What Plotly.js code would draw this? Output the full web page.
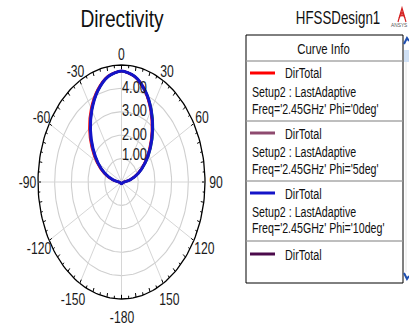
<!DOCTYPE html>
<html>
<head>
<meta charset="utf-8">
<script src="https://cdn.plot.ly/plotly-3.0.1.min.js"></script>
<style>html,body{margin:0;padding:0;background:#fff;}#chart{width:409px;height:328px;}</style>
</head>
<body>
<div id="chart"></div>
<script>
// ---------------- data ----------------
const thetaDeg = [-180,-170,-160,-150,-140,-130,-120,-110,-100,-90,-80,-70,-60,-50,-40,-30,-20,-10,0,10,20,30,40,50,60,70,80,90,100,110,120,130,140,150,160,170,180];
const dirTealPhi = [0.07,0.07,0.07,0.07,0.07,0.07,0.07,0.08,0.10,0.16,0.51,1.04,1.60,2.22,2.88,3.54,4.14,4.57,4.73,4.58,4.16,3.60,2.96,2.31,1.69,1.09,0.54,0.17,0.10,0.08,0.07,0.07,0.07,0.07,0.07,0.07,0.07];
const dirOlivePhi = [0.07,0.07,0.07,0.07,0.07,0.07,0.07,0.08,0.10,0.16,0.52,1.06,1.64,2.26,2.92,3.57,4.15,4.58,4.74,4.58,4.15,3.58,2.93,2.27,1.65,1.07,0.52,0.16,0.10,0.08,0.07,0.07,0.07,0.07,0.07,0.07,0.07];
const dirPhi0 = [0.07,0.07,0.07,0.07,0.07,0.07,0.07,0.08,0.10,0.17,0.55,1.11,1.71,2.33,2.99,3.63,4.19,4.60,4.74,4.57,4.12,3.50,2.83,2.18,1.58,1.02,0.50,0.15,0.10,0.08,0.07,0.07,0.07,0.07,0.07,0.07,0.07];
const dirPhi5 = [0.07,0.07,0.07,0.07,0.07,0.07,0.07,0.08,0.10,0.16,0.53,1.08,1.67,2.29,2.95,3.59,4.17,4.59,4.74,4.58,4.13,3.53,2.86,2.21,1.60,1.04,0.51,0.16,0.10,0.08,0.07,0.07,0.07,0.07,0.07,0.07,0.07];
const dirPhi10 = [0.07,0.07,0.07,0.07,0.07,0.07,0.07,0.08,0.10,0.16,0.51,1.05,1.62,2.23,2.89,3.55,4.15,4.58,4.74,4.58,4.15,3.55,2.89,2.24,1.63,1.06,0.52,0.16,0.10,0.08,0.07,0.07,0.07,0.07,0.07,0.07,0.07];
const dirPhi15 = [0.07,0.07,0.07,0.07,0.07,0.07,0.07,0.08,0.10,0.16,0.52,1.06,1.64,2.25,2.91,3.56,4.15,4.58,4.74,4.58,4.14,3.54,2.88,2.23,1.62,1.05,0.51,0.16,0.10,0.08,0.07,0.07,0.07,0.07,0.07,0.07,0.07];

const ringValues = [1, 2, 3, 4, 5];
const ringLabels = ["1.00", "2.00", "3.00", "4.00"];
const spokeAngles = [0, 30, 60, 90, 120, 150, 180, 210, 240, 270, 300, 330];
const angleLabelValues = [0, 30, 60, 90, 120, 150, -180, -150, -120, -90, -60, -30];
const legendNames = ["DirTotal", "DirTotal", "DirTotal", "DirTotal"];
const legendSetups = ["Setup2 : LastAdaptive", "Setup2 : LastAdaptive", "Setup2 : LastAdaptive", ""];
const legendFreqs = ["Freq='2.45GHz' Phi='0deg'", "Freq='2.45GHz' Phi='5deg'", "Freq='2.45GHz' Phi='10deg'", ""];

// ---------------- geometry / styling ----------------
const W = 409, H = 328;
const cx = 121.5, cy = 182, kx = 16.7, ky = 23.4;
const FONT = "'Liberation Sans', Arial, sans-serif";
const rad = d => d * Math.PI / 180;
const px = x => x / W;
const py = y => 1 - y / H;

function polarXY(rs, thetas) {
  return { x: rs.map((r, i) => r * Math.sin(rad(thetas[i]))), y: rs.map((r, i) => r * Math.cos(rad(thetas[i]))) };
}

const traces = [];
ringValues.forEach(rv => {
  const th = [], rr = [];
  for (let a = 0; a <= 360; a += 2) { th.push(a); rr.push(rv); }
  const p = polarXY(rr, th);
  traces.push({ x: p.x, y: p.y, mode: 'lines', hoverinfo: 'skip', showlegend: false,
    line: { color: rv === 5 ? '#000000' : '#cfcfcf', width: rv === 5 ? 1.3 : 1.1 } });
});
spokeAngles.forEach(a => {
  const p = polarXY([0, 5], [a, a]);
  traces.push({ x: p.x, y: p.y, mode: 'lines', hoverinfo: 'skip', showlegend: false,
    line: { color: '#d6d6d6', width: 1 } });
});
(function () {
  const tx = [], ty = [];
  for (let a = 0; a < 360; a += 5) {
    const inner = (a % 10 === 0) ? 4.82 : 4.88;
    const p = polarXY([inner, 5], [a, a]);
    tx.push(p.x[0], p.x[1], null); ty.push(p.y[0], p.y[1], null);
  }
  traces.push({ x: tx, y: ty, mode: 'lines', hoverinfo: 'skip', showlegend: false,
    line: { color: '#000000', width: 1 } });
})();

const curves = [
  { r: dirTealPhi, color: '#2a9d8f', width: 2 },
  { r: dirOlivePhi, color: '#6b8e23', width: 2 },
  { r: dirPhi15, color: '#4b0a4b', width: 2.2 },
  { r: dirPhi0, color: '#ff0000', width: 2.5 },
  { r: dirPhi5, color: '#8e4a6f', width: 2.2 },
  { r: dirPhi10, color: '#1414c8', width: 3 }
];
curves.forEach(c => {
  const p = polarXY(c.r, thetaDeg);
  traces.push({ x: p.x, y: p.y, mode: 'lines', hoverinfo: 'skip', showlegend: false,
    line: { color: c.color, width: c.width, shape: 'spline', smoothing: 0.8 } });
});

const annotations = [];
const squash = [];
function addAnn(a, s) { annotations.push(a); squash.push(s); }

ringLabels.forEach((t, i) => {
  addAnn({ x: -0.12, y: ringValues[i], xref: 'x', yref: 'y', text: t, showarrow: false,
    xanchor: 'left', yanchor: 'middle', yshift: i === 0 ? 4 : 1, font: { family: FONT, size: 16, color: '#1a1a1a' } }, 0.8);
});
angleLabelValues.forEach(a => {
  const c = Math.cos(rad(a));
  const rl = 5.45 + 0.36 * (1 - c) / 2;
  addAnn({ x: rl * Math.sin(rad(a)), y: rl * c, xref: 'x', yref: 'y',
    text: String(a), showarrow: false, xanchor: 'center', yanchor: 'middle',
    font: { family: FONT, size: 16, color: '#1a1a1a' } }, 0.76);
});

addAnn({ x: px(338), y: py(18), xref: 'paper', yref: 'paper', text: 'HFSSDesign1', showarrow: false,
  xanchor: 'center', yanchor: 'middle', font: { family: FONT, size: 18, color: '#111' } }, 0.74);
addAnn({ x: px(409), y: py(25), xref: 'paper', yref: 'paper', text: 'ANSYS', showarrow: false,
  xanchor: 'right', yanchor: 'middle', font: { family: FONT, size: 6, color: '#555' } }, 0.8);

const shapes = [];
shapes.push({ type: 'rect', xref: 'paper', yref: 'paper', x0: px(246), x1: px(403), y0: py(35), y1: py(283),
  line: { color: '#000', width: 1 }, fillcolor: 'rgba(0,0,0,0)' });
[61, 121, 181, 241].forEach(yy => {
  shapes.push({ type: 'line', xref: 'paper', yref: 'paper', x0: px(246.5), x1: px(402.5), y0: py(yy), y1: py(yy),
    line: { color: '#a8a8a8', width: 1.5 } });
});
addAnn({ x: px(323), y: py(48), xref: 'paper', yref: 'paper', text: 'Curve Info', showarrow: false,
  xanchor: 'center', yanchor: 'middle', font: { family: FONT, size: 15, color: '#111' } }, 0.76);
const legendColors = ['#ff0000', '#8e4a6f', '#1414c8', '#4b0a4b'];
const rowTop = [73, 133, 193, 254];
legendNames.forEach((nm, i) => {
  const y0 = rowTop[i];
  shapes.push({ type: 'line', xref: 'paper', yref: 'paper', x0: px(250), x1: px(275), y0: py(y0), y1: py(y0),
    line: { color: legendColors[i], width: 3 } });
  addAnn({ x: px(283), y: py(y0), xref: 'paper', yref: 'paper', text: nm, showarrow: false,
    xanchor: 'left', yanchor: 'middle', font: { family: FONT, size: 15, color: '#111' } }, 0.72);
  if (legendSetups[i]) addAnn({ x: px(250), y: py(y0 + 18), xref: 'paper', yref: 'paper', text: legendSetups[i], showarrow: false,
    xanchor: 'left', yanchor: 'middle', font: { family: FONT, size: 15, color: '#111' } }, 0.71);
  if (legendFreqs[i]) addAnn({ x: px(250), y: py(y0 + 35), xref: 'paper', yref: 'paper', text: legendFreqs[i], showarrow: false,
    xanchor: 'left', yanchor: 'middle', font: { family: FONT, size: 15, color: '#111' } }, 0.71);
});
shapes.push({ type: 'rect', xref: 'paper', yref: 'paper', x0: px(404), x1: px(409), y0: py(50), y1: py(62),
  line: { width: 0 }, fillcolor: '#cfe0f5' });
shapes.push({ type: 'line', xref: 'paper', yref: 'paper', x0: px(406), x1: px(406), y0: py(62), y1: py(272),
  line: { color: '#e6e6e6', width: 1 } });
shapes.push({ type: 'path', xref: 'paper', yref: 'paper', path: `M ${px(404)} ${py(44)} L ${px(407)} ${py(38)} L ${px(409)} ${py(41)}`,
  line: { color: '#1f4fb0', width: 2 } });
shapes.push({ type: 'path', xref: 'paper', yref: 'paper', path: `M ${px(404)} ${py(273)} L ${px(407)} ${py(279)} L ${px(409)} ${py(276)}`,
  line: { color: '#1f4fb0', width: 2 } });
[0, 1, 2].forEach(k => {
  shapes.push({ type: 'path', xref: 'paper', yref: 'paper',
    path: `M ${px(398 + k * 1.2)} ${py(22 - k * 4)} L ${px(402)} ${py(8 + k * 4)} L ${px(406 - k * 1.2)} ${py(22 - k * 4)}`,
    line: { color: '#d42020', width: 1.2 } });
});

const layout = {
  width: W, height: H,
  margin: { l: 0, r: 0, t: 0, b: 0 },
  paper_bgcolor: '#ffffff', plot_bgcolor: '#ffffff',
  title: { text: 'Directivity', x: px(122), xref: 'container', y: py(19), yref: 'container', xanchor: 'center', yanchor: 'middle',
    font: { family: FONT, size: 24, color: '#111' } },
  xaxis: { range: [(0 - cx) / kx, (W - cx) / kx], visible: false, fixedrange: true },
  yaxis: { range: [(cy - H) / ky, cy / ky], visible: false, fixedrange: true },
  showlegend: false,
  annotations: annotations,
  shapes: shapes
};

function squeeze(textEl, s, anchor) {
  const bb = textEl.getBBox();
  const ax = anchor === 'left' ? bb.x : anchor === 'right' ? bb.x + bb.width : bb.x + bb.width / 2;
  const prev = textEl.getAttribute('transform') || '';
  textEl.setAttribute('transform', `${prev} translate(${ax},0) scale(${s},1) translate(${-ax},0)`);
}

Plotly.newPlot('chart', traces, layout, { displayModeBar: false, staticPlot: true }).then(gd => {
  gd.querySelectorAll('g.annotation').forEach(g => {
    const i = +g.getAttribute('data-index');
    const t = g.querySelector('text');
    if (t && squash[i]) squeeze(t, squash[i], annotations[i].xanchor);
  });
  const tt = gd.querySelector('.gtitle');
  if (tt) squeeze(tt, 0.8, 'center');
});
</script>
</body>
</html>
